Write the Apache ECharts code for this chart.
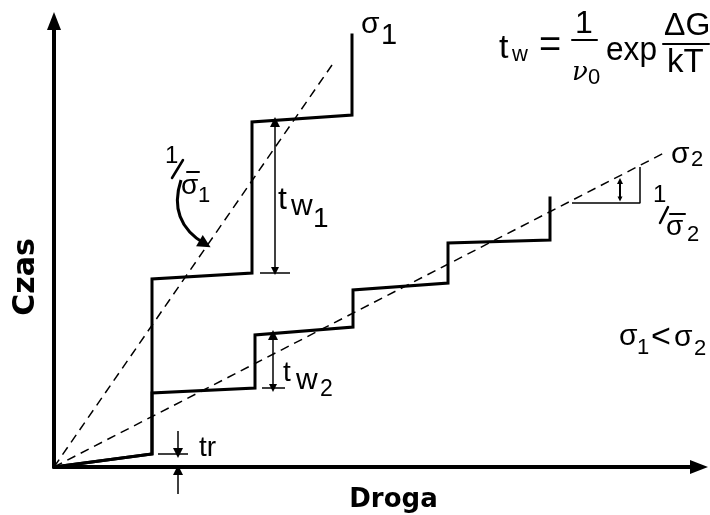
<!DOCTYPE html>
<html>
<head>
<meta charset="utf-8">
<script src="https://cdn.jsdelivr.net/npm/echarts@6/dist/echarts.min.js"></script>
<style>
  html, body { margin: 0; padding: 0; background: #fff; }
  #chart { width: 710px; height: 515px; }
</style>
</head>
<body>
<div id="chart"></div>
<script>
// Schematic units: distance along the path (Droga) vs. time (Czas)
const axisMaxX = 645;
const axisMaxY = 446;

// Staircase paths for the two stresses
const sigma1Path = [[0, 0], [98, 13], [98, 188], [198, 194], [198, 345], [298, 352], [298, 432]];
const sigma2Path = [[0, 0], [98, 13], [98, 74], [201, 79], [201, 132], [299, 140], [299, 177],
                    [394, 184], [394, 224], [496, 227], [496, 269]];

// Mean-rate trend lines (slope 1/sigma)
const sigma1Trend = [[0, 0], [278, 402]];
const sigma2Trend = [[0, 0], [610, 314]];

// Slope triangle on the sigma2 trend
const slopeTriangle = [[518, 264], [586, 264], [586, 300]];

// Dimension markers
const waitTime1 = [[221, 196], [221, 345]];
const waitTime1Tick = [[206, 194], [236, 194]];
const waitTime2 = [[219, 79], [219, 132]];
const waitTime2Tick = [[208, 79], [231, 79]];
const riseArrowTop = [[124, 36], [124, 14]];
const riseTick = [[104, 13], [134, 13]];
const riseArrowBottom = [[124, -27], [124, -3]];
const slopeMark2 = [[566, 268], [566, 286]];
const slopePointer = [[127, 287], [151, 223]];

const BLACK = '#000';
const SANS = '"Liberation Sans", Arial, sans-serif';

function stepSeries(name, data) {
  return {
    name, type: 'line', data, symbol: 'none', silent: true,
    lineStyle: { color: BLACK, width: 3, join: 'miter', cap: 'square' }
  };
}
function dashedSeries(name, data) {
  return {
    name, type: 'line', data, symbol: 'none', silent: true,
    lineStyle: { color: BLACK, width: 1.5, type: [9, 6] }
  };
}
function plainSeries(name, data, width) {
  return {
    name, type: 'line', data, symbol: 'none', silent: true,
    lineStyle: { color: BLACK, width: width || 1.5 }
  };
}
function arrowSeries(name, coords, symbols, size, width, curveness) {
  return {
    name, type: 'lines', coordinateSystem: 'cartesian2d', clip: false, silent: true,
    symbol: symbols, symbolSize: size,
    lineStyle: { color: BLACK, width: width || 1.5, opacity: 1, curveness: curveness || 0 },
    itemStyle: { color: BLACK },
    data: [{ coords }]
  };
}

// text helpers (pixel placement of annotation glyphs)
function t(x, y, text, size, extra, scaleX) {
  const el = {
    type: 'text', x, y, silent: true,
    style: Object.assign({
      text, fill: BLACK, font: size + 'px ' + SANS,
      align: 'left', verticalAlign: 'middle'
    }, extra || {})
  };
  if (scaleX) { el.scaleX = scaleX; }
  return el;
}
function bar(x1, y1, x2, y2, w) {
  return { type: 'line', silent: true, shape: { x1, y1, x2, y2 }, style: { stroke: BLACK, lineWidth: w || 1.5, lineCap: 'round' } };
}

const chart = echarts.init(document.getElementById('chart'), null, { renderer: 'canvas' });

chart.setOption({
  animation: false,
  backgroundColor: '#fff',
  grid: { left: 54, top: 21, right: 11, bottom: 48, containLabel: false, outerBoundsMode: 'none' },
  xAxis: {
    type: 'value', min: 0, max: axisMaxX,
    name: 'Droga', nameLocation: 'middle', nameGap: 20,
    nameTextStyle: { fontFamily: 'DejaVu Sans', fontWeight: 'bold', fontSize: 26, color: BLACK, padding: [0, 0, 0, 34] },
    axisLine: { lineStyle: { color: BLACK, width: 4 }, symbol: ['none', 'triangle'], symbolSize: [14, 18] },
    axisTick: { show: false }, axisLabel: { show: false }, splitLine: { show: false }
  },
  yAxis: {
    type: 'value', min: 0, max: axisMaxY,
    name: 'Czas', nameLocation: 'middle', nameGap: 13, nameRotate: 90,
    nameTextStyle: { fontFamily: 'DejaVu Sans', fontWeight: 'bold', fontSize: 30, color: BLACK, padding: [0, 66, 0, 0] },
    axisLine: { lineStyle: { color: BLACK, width: 4 }, symbol: ['none', 'triangle'], symbolSize: [14, 18] },
    axisTick: { show: false }, axisLabel: { show: false }, splitLine: { show: false }
  },
  series: [
    dashedSeries('trend σ1', sigma1Trend),
    dashedSeries('trend σ2', sigma2Trend),
    stepSeries('σ1', sigma1Path),
    stepSeries('σ2', sigma2Path),
    plainSeries('slope σ2', slopeTriangle),
    plainSeries('tw1 tick', waitTime1Tick),
    plainSeries('tw2 tick', waitTime2Tick),
    plainSeries('tr tick', riseTick),
    arrowSeries('tw1', waitTime1, ['triangle', 'triangle'], [8, 10]),
    arrowSeries('tw2', waitTime2, ['triangle', 'triangle'], [8, 10]),
    arrowSeries('tr top', riseArrowTop, ['none', 'triangle'], [8, 10]),
    arrowSeries('tr bottom', riseArrowBottom, ['none', 'triangle'], [8, 10]),
    arrowSeries('slope mark', slopeMark2, ['triangle', 'triangle'], [5, 6], 2),
    arrowSeries('1/σ1 pointer', slopePointer, ['none', 'triangle'], [10, 13], 3, -0.4)
  ],
  graphic: [
    // σ1 label at the top of the first staircase
    t(361, 25, 'σ', 30),
    t(381, 36, '1', 29),
    // σ2 label at the end of the trend line
    t(671, 155, 'σ', 30),
    t(691, 160, '2', 22),
    // formula t_w = (1/ν0) exp(ΔG/kT)
    t(499, 49, 't', 34),
    t(512, 55, 'w', 22),
    t(539, 47, '=', 38),
    t(575, 24, '1', 32),
    bar(572, 40, 597, 40, 2),
    t(572, 73, 'ν', 26, { font: 'italic 26px "DejaVu Serif", serif' }),
    t(588, 78, '0', 22),
    t(606, 51, 'exp', 34, null, 0.93),
    t(664, 26, 'ΔG', 32),
    bar(663, 44, 709, 44, 2),
    t(667, 63, 'kT', 33),
    // 1/σ̄1
    t(165, 156, '1', 24),
    bar(172, 178, 183, 160, 2.5),
    t(181, 186, 'σ', 28),
    bar(187, 172, 199, 172, 2),
    t(198, 196, '1', 22),
    // t_w1
    t(278, 200, 't', 32),
    t(291, 207, 'w', 30),
    t(313, 219, '1', 28),
    // t_w2
    t(283, 373, 't', 28),
    t(296, 381, 'w', 30),
    t(320, 390, '2', 23),
    // t_r
    t(199, 448, 'tr', 28),
    // 1/σ̄2
    t(653, 195, '1', 24),
    bar(660, 223, 668, 207, 2.5),
    t(666, 227, 'σ', 28),
    bar(670, 214, 685, 214, 2),
    t(687, 235, '2', 22),
    // σ1 < σ2
    t(619, 337, 'σ', 30),
    t(637, 348, '1', 22),
    t(651, 338, '<', 34),
    t(674, 338, 'σ', 30),
    t(694, 349, '2', 22)
  ]
});
</script>
</body>
</html>
